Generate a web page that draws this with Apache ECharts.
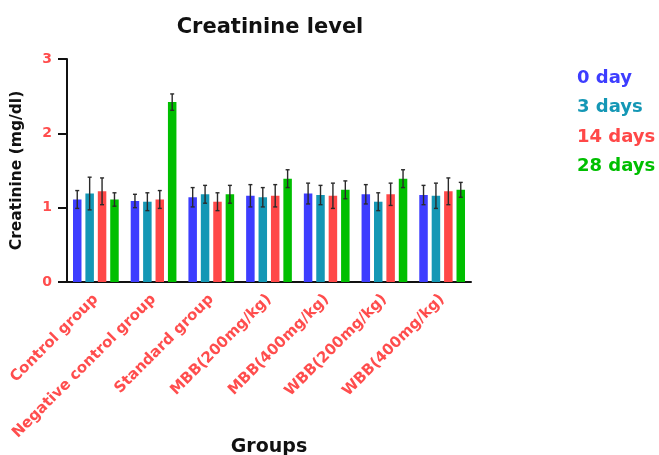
<!DOCTYPE html>
<html>
<head>
<meta charset="utf-8">
<script src="https://cdn.jsdelivr.net/npm/echarts@6/dist/echarts.min.js"></script>
<style>
  html, body { margin: 0; padding: 0; background: #fff; }
  #chart { width: 659px; height: 455px; }
</style>
</head>
<body>
<div id="chart"></div>
<script>
// Serum creatinine per group at four time points (mean ± error)
const groups = ['Control group', 'Negative control group', 'Standard group',
  'MBB(200mg/kg)', 'MBB(400mg/kg)', 'WBB(200mg/kg)', 'WBB(400mg/kg)'];
const seriesNames = ['0 day', '3 days', '14 days', '28 days'];
const seriesColors = ['#3d3dff', '#1497b5', '#ff4848', '#00bf00'];

const day0 = [1.11, 1.09, 1.14, 1.16, 1.19, 1.18, 1.17];
const day3 = [1.19, 1.08, 1.18, 1.14, 1.17, 1.08, 1.16];
const day14 = [1.22, 1.11, 1.08, 1.16, 1.16, 1.18, 1.22];
const day28 = [1.11, 2.42, 1.18, 1.39, 1.24, 1.39, 1.24];

const err0 = [0.12, 0.09, 0.13, 0.15, 0.14, 0.13, 0.13];
const err3 = [0.22, 0.12, 0.12, 0.13, 0.13, 0.12, 0.17];
const err14 = [0.18, 0.12, 0.12, 0.15, 0.17, 0.15, 0.18];
const err28 = [0.09, 0.11, 0.12, 0.12, 0.12, 0.12, 0.10];

const yTicks = [0, 1, 2, 3];

const values = [day0, day3, day14, day28];
const errors = [err0, err3, err14, err28];

const FONT = '"DejaVu Sans", Verdana, sans-serif';
const BAR_W = 8.5;
const BAR_GAP = 0.46;

// horizontal offset of the i-th bar inside its category band
function barOffset(i) {
  const gap = BAR_W * BAR_GAP;
  const total = 4 * BAR_W + 3 * gap;
  return -total / 2 + i * (BAR_W + gap) + BAR_W / 2;
}

const barSeries = seriesNames.map((name, i) => ({
  name: name,
  type: 'bar',
  data: values[i],
  barWidth: BAR_W,
  barGap: (BAR_GAP * 100) + '%',
  itemStyle: { color: seriesColors[i] },
  z: 2
}));

const errorSeries = seriesNames.map((name, i) => ({
  type: 'custom',
  name: name + ' error',
  data: values[i].map((v, k) => [k, v, errors[i][k]]),
  z: 5,
  silent: true,
  renderItem: function (params, api) {
    const k = api.value(0);
    const v = api.value(1);
    const e = api.value(2);
    const top = api.coord([k, v + e]);
    const bot = api.coord([k, v - e]);
    const x = top[0] + barOffset(i);
    const cap = 2;
    const style = { stroke: '#2a2a2a', lineWidth: 1.4 };
    return {
      type: 'group',
      children: [
        { type: 'line', shape: { x1: x, y1: top[1], x2: x, y2: bot[1] }, style: style },
        { type: 'line', shape: { x1: x - cap, y1: top[1], x2: x + cap, y2: top[1] }, style: style },
        { type: 'line', shape: { x1: x - cap, y1: bot[1], x2: x + cap, y2: bot[1] }, style: style }
      ]
    };
  },
  encode: { x: 0, y: 1 }
}));

const chart = echarts.init(document.getElementById('chart'), null, { renderer: 'canvas' });

chart.setOption({
  animation: false,
  backgroundColor: '#ffffff',
  textStyle: { fontFamily: FONT },
  title: {
    text: 'Creatinine level',
    left: 265,
    top: 12,
    textAlign: 'center',
    textStyle: { fontFamily: FONT, fontSize: 21, fontWeight: 'bold', color: '#111' }
  },
  legend: {
    orient: 'vertical',
    left: 572,
    top: 64,
    itemWidth: 0,
    itemHeight: 0,
    itemGap: 11.5,
    icon: 'rect',
    data: seriesNames.map((n, i) => ({
      name: n,
      textStyle: { color: seriesColors[i], fontFamily: FONT, fontSize: 18, fontWeight: 'bold', padding: [0, 0, 0, -5] }
    })),
    textStyle: { fontFamily: FONT, fontSize: 18, fontWeight: 'bold' }
  },
  grid: {
    left: 67, right: 188, top: 59, bottom: 173,
    containLabel: false,
    outerBoundsMode: 'none'
  },
  xAxis: {
    type: 'category',
    data: groups,
    name: 'Groups',
    nameLocation: 'middle',
    nameGap: 156,
    nameMoveOverlap: false,
    nameTextStyle: { fontFamily: FONT, fontSize: 19, fontWeight: 'bold', color: '#111' },
    axisLine: { lineStyle: { color: '#111', width: 2 } },
    axisTick: { alignWithLabel: true, length: 9, lineStyle: { color: '#111', width: 2 } },
    axisLabel: {
      rotate: 45,
      interval: 0,
      margin: 15,
      color: '#ff4d4d',
      fontFamily: FONT,
      fontSize: 15,
      fontWeight: 'bold'
    }
  },
  yAxis: {
    type: 'value',
    min: yTicks[0],
    max: yTicks[yTicks.length - 1],
    interval: 1,
    name: 'Creatinine (mg/dl)',
    nameLocation: 'middle',
    nameGap: 42,
    nameMoveOverlap: false,
    nameTextStyle: { fontFamily: FONT, fontSize: 15.5, fontWeight: 'bold', color: '#111' },
    splitLine: { show: false },
    axisLine: { show: true, lineStyle: { color: '#111', width: 2 } },
    axisTick: { show: true, length: 9, lineStyle: { color: '#111', width: 2 } },
    axisLabel: { margin: 15, color: '#ff4d4d', fontFamily: FONT, fontSize: 14, fontWeight: 'bold' }
  },
  series: barSeries.concat(errorSeries)
});
</script>
</body>
</html>
